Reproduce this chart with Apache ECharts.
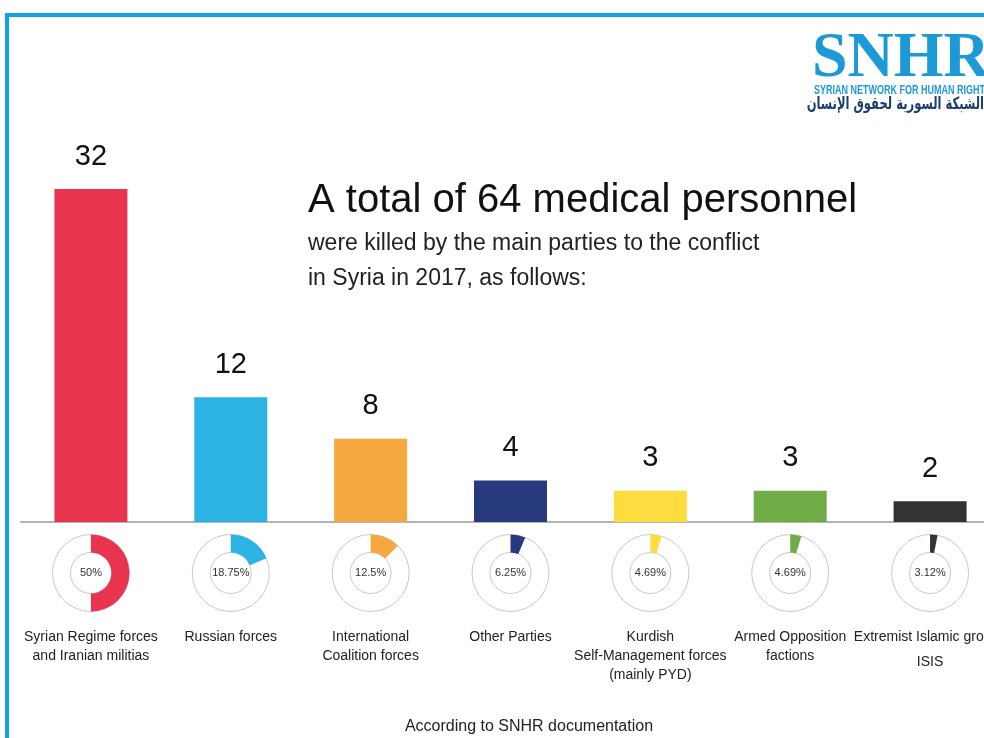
<!DOCTYPE html>
<html>
<head>
<meta charset="utf-8">
<script src="https://cdn.jsdelivr.net/npm/echarts@6.0.0/dist/echarts.min.js"></script>
<style>
  html, body { margin: 0; padding: 0; background: #fff; }
  #main { width: 984px; height: 738px; }
</style>
</head>
<body>
<div id="main"></div>
<script>
// data
var categories = [
    'Syrian Regime forces\nand Iranian militias',
    'Russian forces',
    'International\nCoalition forces',
    'Other Parties',
    'Kurdish\nSelf-Management forces\n(mainly PYD)',
    'Armed Opposition\nfactions',
    'Extremist Islamic groups\nISIS'
];
var values = [32, 12, 8, 4, 3, 3, 2];
var percentLabels = ['50%', '18.75%', '12.5%', '6.25%', '4.69%', '4.69%', '3.12%'];
var barColors = ['#e8344f', '#2bb3e3', '#f4a83f', '#283a7e', '#fddc3f', '#71ad47', '#333333'];

var total = 0;
for (var i = 0; i < values.length; i++) total += values[i];

var font = '"Liberation Sans", Arial, sans-serif';
var myChart = echarts.init(document.getElementById('main'));

var option = {
    backgroundColor: '#fff',
    animation: false,
    title: {
        text: 'A total of 64 medical personnel',
        subtext: 'were killed by the main parties to the conflict\nin Syria in 2017, as follows:',
        left: 308,
        top: 178,
        padding: 0,
        itemGap: 2,
        textStyle: { fontFamily: font, fontSize: 40, fontWeight: 'normal', color: '#111', lineHeight: 46 },
        subtextStyle: { fontFamily: font, fontSize: 23, color: '#222', lineHeight: 35 }
    },
    grid: { left: 21, width: 979, top: 189, height: 333, outerBoundsMode: 'none' },
    xAxis: {
        type: 'category',
        data: categories,
        axisLine: { lineStyle: { color: '#b3b3b3', width: 2 } },
        axisTick: { show: false },
        axisLabel: {
            interval: 0,
            margin: 106,
            fontFamily: font,
            fontSize: 14,
            lineHeight: 19,
            color: '#222',
            formatter: function (v) {
                return v.replace('\nISIS', '\n{gap|ISIS}');
            },
            rich: {
                gap: { fontFamily: font, fontSize: 14, color: '#222', lineHeight: 31 }
            }
        }
    },
    yAxis: {
        type: 'value',
        min: 0,
        max: 32,
        show: false,
        splitLine: { show: false }
    },
    series: [{
        type: 'bar',
        barWidth: 73,
        silent: true,
        data: values.map(function (v, i) {
            return { value: v, itemStyle: { color: barColors[i] } };
        }),
        label: {
            show: true,
            position: 'top',
            distance: 18,
            fontFamily: font,
            fontSize: 29,
            color: '#111'
        }
    }],
    graphic: [
        { type: 'rect', shape: { x: 7, y: 15, width: 1000, height: 1000 },
          style: { fill: null, stroke: '#0aa5e2', lineWidth: 4 }, z: 100 },
        { type: 'text', left: 812, top: 27,
          style: { text: 'SNHR', font: 'bold 64px "Liberation Serif", serif', fill: '#1b9ad7' } },
        { type: 'text', x: 814, y: 84, scaleX: 0.72,
          style: { text: 'SYRIAN NETWORK FOR HUMAN RIGHTS', font: 'bold 12.5px "Liberation Sans", sans-serif', fill: '#1b9ad7' } },
        { type: 'text', x: 984, y: 105, scaleX: 0.68,
          style: { text: 'الشبكة السورية لحقوق الإنسان', font: 'bold 17px "DejaVu Sans", sans-serif', fill: '#1d3f70',
                   align: 'right', verticalAlign: 'middle' } },
        { type: 'text', x: 529, y: 727,
          style: { text: 'According to SNHR documentation', font: '16px ' + font, fill: '#222',
                   align: 'center', verticalAlign: 'middle' } }
    ]
};
myChart.setOption(option);

// donuts sit under each bar, at the category centres of the x axis
var donutY = 573;
var pies = [];
for (var i = 0; i < values.length; i++) {
    var cx = myChart.convertToPixel({ xAxisIndex: 0 }, i);
    pies.push({
        type: 'pie',
        silent: true,
        center: [cx, donutY],
        radius: [20.5, 38.5],
        label: { show: false },
        labelLine: { show: false },
        data: [{ value: 1, itemStyle: { color: '#fff', borderColor: '#c9c9c9', borderWidth: 1 } }],
        z: 2
    });
    pies.push({
        type: 'pie',
        silent: true,
        center: [cx, donutY],
        radius: [20.5, 38.5],
        startAngle: 90,
        clockwise: true,
        avoidLabelOverlap: false,
        labelLine: { show: false },
        data: [
            { value: values[i], itemStyle: { color: barColors[i] },
              label: { show: true, position: 'center', formatter: percentLabels[i],
                       fontFamily: font, fontSize: 11, color: '#333' } },
            { value: total - values[i], itemStyle: { color: 'rgba(0,0,0,0)' }, label: { show: false } }
        ],
        z: 3
    });
}
myChart.setOption({ series: option.series.concat(pies) });
</script>
</body>
</html>
